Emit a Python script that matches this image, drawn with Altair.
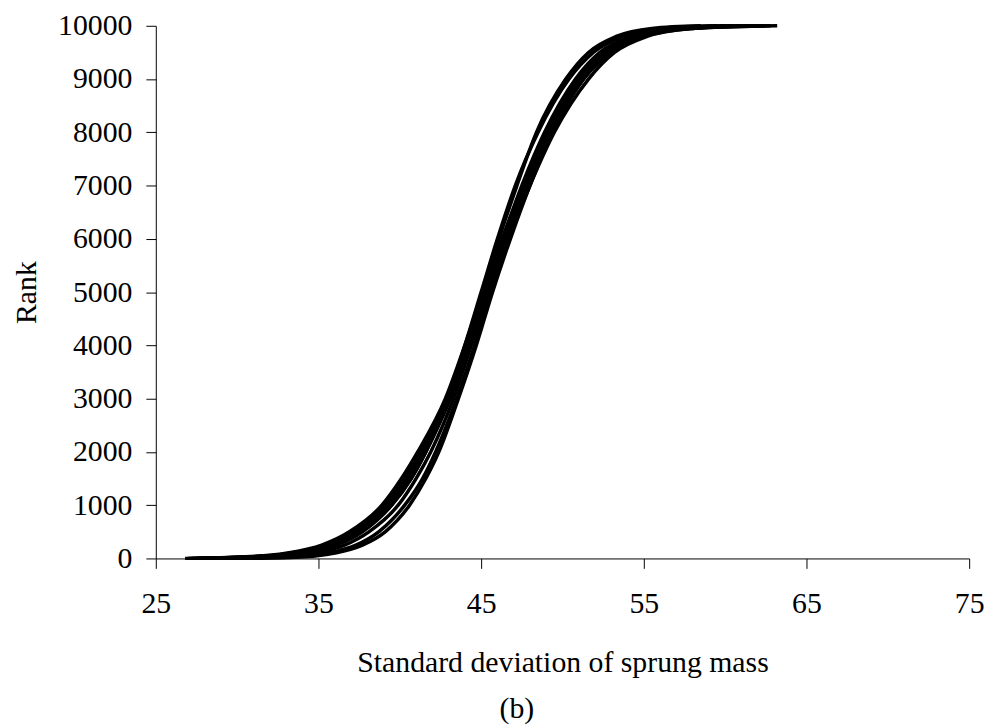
import altair as alt
import pandas as pd

# Rank levels at which the curves were read
ranks = [1, 30, 100, 250, 500, 1000, 1500, 2000, 3000, 4000, 5000, 6000,
         7000, 8000, 9000, 9500, 9800, 9950, 10000]

# Standard deviation of sprung mass for each simulated curve
curve_a = [26.8, 30.5, 33.0, 35.2, 36.9, 38.9, 40.1, 41.1, 42.8, 44.0, 45.1, 46.3, 47.5, 48.9, 50.8, 52.3, 54.2, 56.5, 60.0]
curve_h = [27.2, 30.8, 33.3, 35.4, 37.1, 39.0, 40.2, 41.2, 42.9, 44.1, 45.2, 46.3, 47.6, 49.0, 50.9, 52.4, 54.3, 56.8, 60.5]
curve_b = [27.5, 31.0, 33.6, 35.6, 37.3, 39.2, 40.4, 41.4, 43.0, 44.2, 45.3, 46.4, 47.7, 49.1, 51.0, 52.6, 54.5, 57.0, 61.0]
curve_c = [28.0, 31.5, 34.0, 36.0, 37.6, 39.5, 40.7, 41.6, 43.1, 44.3, 45.4, 46.5, 47.8, 49.2, 51.2, 52.8, 54.8, 57.5, 62.0]
curve_i = [29.0, 32.5, 34.8, 36.6, 38.1, 39.9, 41.0, 41.9, 43.3, 44.4, 45.5, 46.6, 47.9, 49.3, 51.3, 52.9, 54.9, 57.7, 62.8]
curve_d = [28.5, 32.0, 34.2, 36.1, 37.7, 39.5, 40.7, 41.6, 43.0, 44.1, 45.1, 46.1, 47.2, 48.4, 50.2, 51.6, 53.3, 55.5, 58.5]
curve_j = [27.0, 30.8, 33.5, 35.6, 37.3, 39.2, 40.4, 41.3, 42.9, 44.0, 45.0, 46.0, 47.1, 48.5, 50.4, 51.9, 53.7, 56.0, 59.5]
curve_e = [30.0, 33.5, 35.5, 37.3, 38.7, 40.3, 41.4, 42.2, 43.5, 44.6, 45.6, 46.7, 47.9, 49.3, 51.2, 52.8, 54.8, 57.5, 63.2]
curve_f = [31.0, 34.2, 36.0, 37.7, 39.1, 40.6, 41.6, 42.4, 43.6, 44.7, 45.7, 46.8, 48.0, 49.4, 51.3, 53.0, 55.0, 58.0, 62.5]
curve_g = [27.8, 31.2, 33.8, 35.8, 37.4, 39.3, 40.5, 41.5, 43.1, 44.3, 45.5, 46.7, 48.0, 49.5, 51.6, 53.2, 55.2, 58.0, 61.5]

x_ticks = [25, 35, 45, 55, 65, 75]
y_ticks = [0, 1000, 2000, 3000, 4000, 5000, 6000, 7000, 8000, 9000, 10000]

curves = {"A": curve_a, "H": curve_h, "B": curve_b, "C": curve_c, "I": curve_i,
          "D": curve_d, "J": curve_j, "E": curve_e, "F": curve_f, "G": curve_g}
rows = []
for name, vals in curves.items():
    for r, v in zip(ranks, vals):
        rows.append({"curve": name, "rank": r, "sd": v})
df = pd.DataFrame(rows)

FONT = "Liberation Serif"
FS = 30

chart = alt.Chart(df).mark_line(
    color="black", strokeWidth=3.5, interpolate="monotone"
).encode(
    x=alt.X("sd:Q",
            scale=alt.Scale(domain=[25, 75], nice=False, zero=False),
            axis=alt.Axis(values=x_ticks, title="Standard deviation of sprung mass",
                          grid=False, tickSize=10, labelPadding=21, titlePadding=29,
                          domainColor="black", tickColor="black", domainWidth=1,
                          labelFlush=False)),
    y=alt.Y("rank:Q",
            scale=alt.Scale(domain=[0, 10000], nice=False),
            axis=alt.Axis(values=y_ticks, title="Rank", format="d",
                          grid=False, tickSize=10, labelPadding=14, titlePadding=16,
                          domainColor="black", tickColor="black", domainWidth=1)),
    detail="curve:N",
    order="rank:Q",
).properties(
    width=820,
    height=537,
    padding={"left": 4, "top": 0, "right": 5, "bottom": 0},
    title=alt.TitleParams(text="(b)", orient="bottom", anchor="middle", frame="group",
                          dx=-46, offset=17, fontSize=FS, font=FONT,
                          fontWeight="normal", color="black"),
).configure_axis(
    labelFont=FONT, titleFont=FONT, labelFontSize=FS, titleFontSize=FS,
    labelColor="black", titleColor="black", titleFontWeight="normal",
).configure_view(stroke=None)

chart.save("out.html", embed_options={"renderer": "svg", "actions": False})
